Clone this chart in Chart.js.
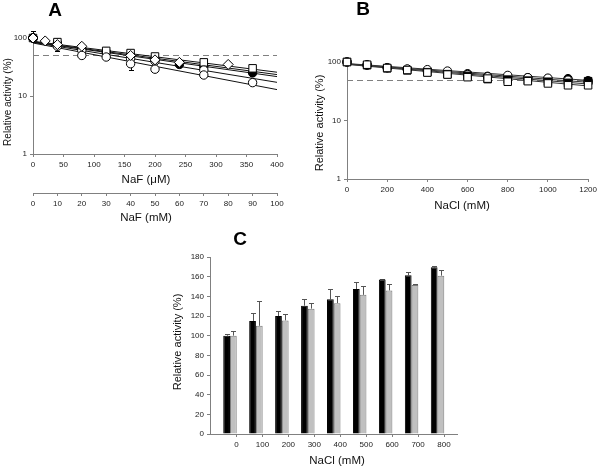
<!DOCTYPE html>
<html><head><meta charset="utf-8">
<script src="https://cdn.jsdelivr.net/npm/chart.js@4"></script>
<style>
body{margin:0;background:#fff;}
#wrap{position:relative;width:600px;height:468px;overflow:hidden;background:#fff;}
canvas{position:absolute;}
</style></head><body>
<div id="wrap">
<canvas id="ca" width="300" height="228" style="left:0;top:0;width:300px;height:228px"></canvas>
<canvas id="cb" width="300" height="228" style="left:300px;top:0;width:300px;height:228px"></canvas>
<canvas id="cc" width="310" height="242" style="left:160px;top:226px;width:310px;height:242px"></canvas>
</div>
<script>
// ---------- Panel A (NaF) ----------
const aDiamondX = [0, 20, 40, 80, 160, 200, 240, 320];
const aDiamondY = [100, 89, 77, 72, 50, 42, 38, 35];
const aDiamondErrUp = [30, 0, 0, 0, 0, 0, 0, 0];
const aDiamondErrDown = [0, 0, 18, 0, 0, 0, 0, 0];
const aSquareX = [0, 40, 120, 160, 200, 280, 360];
const aSquareY = [100, 85, 60, 55, 48, 38, 30];
const aFilledX = [0, 40, 80, 120, 160, 200, 240, 280, 360];
const aFilledY = [100, 82, 66, 58, 50, 44, 35, 32, 25];
const aCircle1X = [0, 40, 80, 120, 160, 200, 280];
const aCircle1Y = [100, 72, 61, 47, 44, 40, 28];
const aCircle2X = [0, 80, 160, 200, 280, 360];
const aCircle2Y = [100, 50, 36, 29, 23, 17];
const aCircle2ErrDown = [0, 0, 8, 0, 0, 0];
const aFitStart = [88, 86, 85, 84, 82];
const aFitEnd = [25.7, 23.4, 21.6, 17.2, 12.9];
const aFitRange = [0, 400];
const logTicks = [1, 10, 100];
const threshold = 50;

// ---------- Panel B (NaCl) ----------
const bConc = [0, 100, 200, 300, 400, 500, 600, 700, 800, 900, 1000, 1100, 1200];
const bFilledCircle = [100, 90, 80, 75, 70, 66, 63, 57, 55, 54, 52, 52, 48];
const bOpenCircle = [100, 88, 80, 76, 74, 70, 61, 56, 59, 54, 53, 49, 45];
const bFilledSquare = [100, 88, 78, 72, 67, 62, 58, 51, 50, 48, 46, 44, 47];
const bOpenSquare = [100, 90, 79, 73, 66, 61, 55, 52, 46, 47, 43, 40, 40];
const bFitStart = [94, 93, 92, 91];
const bFitEnd = [48.5, 45, 42, 39];
const bFitRange = [0, 1200];

// ---------- Panel C (NaCl bars) ----------
const cLabels = ['0', '100', '200', '300', '400', '500', '600', '700', '800'];
const cBlack = [100, 115, 120, 130.5, 137, 147.5, 157, 161.5, 169.5];
const cBlackErr = [2, 8, 5, 7, 10, 7.5, 1, 3.5, 1.5];
const cGray = [100, 110, 115.5, 127.5, 133, 141.5, 146, 151.5, 161];
const cGrayErr = [5, 25, 7, 5.5, 7, 9, 7, 1.5, 6];

const FONT = '"Liberation Sans", Arial, sans-serif';
Chart.defaults.font.family = FONT;
Chart.defaults.color = '#222';

// panel letters and axis titles, placed in canvas coordinates
const textLayer = {
  id: 'textLayer',
  afterDraw(chart, args, opts) {
    const ctx = chart.ctx;
    (opts.items || []).forEach(it => {
      ctx.save();
      ctx.font = (it.bold ? 'bold ' : '') + it.size + 'px ' + FONT;
      ctx.fillStyle = it.color || '#111';
      ctx.textAlign = 'center';
      ctx.textBaseline = 'middle';
      ctx.translate(it.x, it.y);
      if (it.rotate) ctx.rotate(-Math.PI / 2);
      ctx.fillText(it.text, 0, 0);
      ctx.restore();
    });
  }
};
const thresholdLine = {
  id: 'thresholdLine',
  beforeDatasetsDraw(chart, args, opts) {
    if (opts.value === undefined) return;
    const ctx = chart.ctx, a = chart.chartArea;
    const y = Math.round(chart.scales.y.getPixelForValue(opts.value)) + 0.5;
    ctx.save();
    ctx.strokeStyle = '#808080';
    ctx.lineWidth = 1;
    ctx.setLineDash([6, 4]);
    ctx.beginPath(); ctx.moveTo(a.left, y); ctx.lineTo(a.right, y); ctx.stroke();
    ctx.restore();
  }
};
const errorBars = {
  id: 'errorBars',
  beforeDatasetsDraw(chart) {
    const ctx = chart.ctx, ys = chart.scales.y;
    chart.data.datasets.forEach((ds, di) => {
      if (!ds.errUp && !ds.errDown) return;
      const meta = chart.getDatasetMeta(di);
      meta.data.forEach((el, i) => {
        const v = ds.data[i].y;
        const x = Math.round(el.x) + 0.5;
        const parts = [];
        if (ds.errUp && ds.errUp[i]) parts.push(v + ds.errUp[i]);
        if (ds.errDown && ds.errDown[i]) parts.push(v - ds.errDown[i]);
        ctx.save();
        ctx.strokeStyle = ds.errColor || '#000';
        ctx.lineWidth = 1;
        parts.forEach(val => {
          const y0 = ys.getPixelForValue(v), y1 = Math.round(ys.getPixelForValue(val)) + 0.5;
          ctx.beginPath();
          ctx.moveTo(x, y0); ctx.lineTo(x, y1);
          ctx.moveTo(x - 2.5, y1); ctx.lineTo(x + 2.5, y1);
          ctx.stroke();
        });
        ctx.restore();
      });
    });
  }
};
Chart.register(textLayer, thresholdLine, errorBars);

const pts = (xs, ys) => xs.map((x, i) => ({x: x, y: ys[i]}));
const AX = '#808080';
const plain = v => String(v);
const markerRadius = {rectRot: 5, rect: 5.3, circle: 4.2};
function gridOpts() { return {display: true, drawOnChartArea: false, drawTicks: true, tickLength: 3, color: AX}; }
function marker(data, style, filled, extra) {
  return Object.assign({
    data: data, showLine: false, pointStyle: style, clip: false,
    pointRadius: markerRadius[style],
    pointBackgroundColor: filled ? '#000' : '#fff',
    pointBorderColor: '#000', pointBorderWidth: 1, errColor: '#000'
  }, extra || {});
}
function fitLine(range, s, e, color) {
  return {data: [{x: range[0], y: s}, {x: range[1], y: e}], showLine: true, pointRadius: 0,
    borderColor: color, borderWidth: 1, fill: false, clip: false};
}
const baseOpts = {responsive: false, animation: false, events: []};

// Panel A
new Chart(document.getElementById('ca'), {
  type: 'scatter',
  data: {datasets: [
    marker(pts(aDiamondX, aDiamondY), 'rectRot', false, {errUp: aDiamondErrUp, errDown: aDiamondErrDown}),
    marker(pts(aCircle2X, aCircle2Y), 'circle', false, {errDown: aCircle2ErrDown}),
    marker(pts(aCircle1X, aCircle1Y), 'circle', false),
    marker(pts(aSquareX, aSquareY), 'rect', false),
    marker(pts(aFilledX, aFilledY), 'circle', true),
    ...aFitStart.map((s, i) => fitLine(aFitRange, s, aFitEnd[i], '#111'))
  ]},
  options: Object.assign({}, baseOpts, {
    layout: {padding: {left: 0, right: 23, top: 38, bottom: 0}},
    plugins: {legend: {display: false}, tooltip: {enabled: false},
      thresholdLine: {value: threshold},
      textLayer: {items: [
        {text: 'A', x: 55, y: 11, size: 19, bold: true, color: '#000'},
        {text: 'NaF (μM)', x: 146, y: 180, size: 11.5},
        {text: 'NaF (mM)', x: 146, y: 218, size: 11.5},
        {text: 'Relative activity (%)', x: 8, y: 102, size: 10, rotate: true}
      ]}},
    scales: {
      x: {type: 'linear', position: 'bottom', weight: 0, min: 0, max: 400,
        ticks: {stepSize: 50, font: {size: 8}, padding: 3, maxRotation: 0, callback: plain},
        grid: gridOpts(), border: {color: AX},
        afterFit: s => { s.height = 39; }},
      x2: {type: 'linear', position: 'bottom', weight: 1, min: 0, max: 100,
        ticks: {stepSize: 10, font: {size: 8}, padding: 3, maxRotation: 0, callback: plain},
        grid: gridOpts(), border: {color: AX},
        afterFit: s => { s.height = 35; }},
      y: {type: 'logarithmic', min: 1, max: 100,
        afterBuildTicks: s => { s.ticks = logTicks.map(v => ({value: v})); },
        ticks: {font: {size: 8}, padding: 3, callback: plain},
        grid: gridOpts(), border: {color: AX},
        afterFit: s => { s.width = 33; }}
    }
  })
});

// Panel B
new Chart(document.getElementById('cb'), {
  type: 'scatter',
  data: {datasets: [
    marker(pts(bConc, bOpenSquare), 'rect', false),
    marker(pts(bConc, bFilledSquare), 'rect', true),
    marker(pts(bConc, bOpenCircle), 'circle', false),
    marker(pts(bConc, bFilledCircle), 'circle', true),
    ...bFitStart.map((s, i) => fitLine(bFitRange, s, bFitEnd[i], '#333'))
  ]},
  options: Object.assign({}, baseOpts, {
    layout: {padding: {left: 0, right: 10, top: 62, bottom: 0}},
    plugins: {legend: {display: false}, tooltip: {enabled: false},
      thresholdLine: {value: threshold},
      textLayer: {items: [
        {text: 'B', x: 63, y: 10, size: 19, bold: true, color: '#000'},
        {text: 'NaCl (mM)', x: 162, y: 206, size: 11.5},
        {text: 'Relative activity (%)', x: 20, y: 123, size: 11, rotate: true}
      ]}},
    scales: {
      x: {type: 'linear', position: 'bottom', min: 0, max: 1200,
        ticks: {stepSize: 200, font: {size: 8}, padding: 3, maxRotation: 0, callback: plain},
        grid: gridOpts(), border: {color: AX},
        afterFit: s => { s.height = 49; }},
      y: {type: 'logarithmic', min: 1, max: 100,
        afterBuildTicks: s => { s.ticks = logTicks.map(v => ({value: v})); },
        ticks: {font: {size: 8}, padding: 3, callback: plain},
        grid: gridOpts(), border: {color: AX},
        afterFit: s => { s.width = 47; }}
    }
  })
});

// Panel C
new Chart(document.getElementById('cc'), {
  type: 'bar',
  data: {datasets: [
    {data: cBlack.map((v, i) => ({x: i, y: v})), backgroundColor: '#000', borderColor: '#000', borderWidth: 1,
      errUp: cBlackErr, errColor: '#555', barPercentage: 1, categoryPercentage: 0.52},
    {data: cGray.map((v, i) => ({x: i, y: v})), backgroundColor: '#c0c0c0', borderColor: '#7a7a7a', borderWidth: 1,
      errUp: cGrayErr, errColor: '#555', barPercentage: 1, categoryPercentage: 0.52}
  ]},
  options: Object.assign({}, baseOpts, {
    layout: {padding: {left: 0, right: 13, top: 31, bottom: 0}},
    plugins: {legend: {display: false}, tooltip: {enabled: false},
      textLayer: {items: [
        {text: 'C', x: 80, y: 14, size: 19, bold: true, color: '#000'},
        {text: 'NaCl (mM)', x: 177, y: 235, size: 11.5},
        {text: 'Relative activity (%)', x: 18, y: 116, size: 11, rotate: true}
      ]}},
    scales: {
      x: {type: 'linear', min: -0.77, max: 8.75, offset: false,
        afterBuildTicks: s => { s.ticks = cLabels.map((l, i) => ({value: i + 0.25})); },
        ticks: {font: {size: 8}, padding: 3, maxRotation: 0, autoSkip: false, callback: (v, i) => cLabels[i]},
        grid: Object.assign(gridOpts(), {offset: false}), border: {color: AX},
        afterFit: s => { s.height = 34; }},
      y: {min: 0, max: 180,
        ticks: {stepSize: 20, font: {size: 8}, padding: 3, callback: plain},
        grid: gridOpts(), border: {color: AX},
        afterFit: s => { s.width = 50; }}
    }
  })
});
</script>
</body></html>
